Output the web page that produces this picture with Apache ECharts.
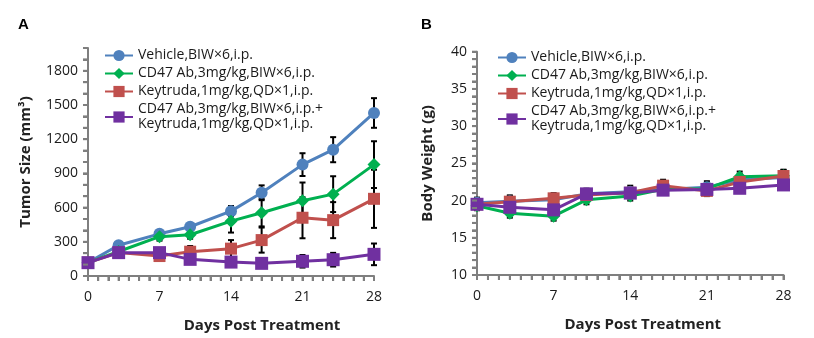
<!DOCTYPE html>
<html><head><meta charset="utf-8">
<script src="https://cdn.jsdelivr.net/npm/echarts@6/dist/echarts.min.js"></script>
<style>html,body{margin:0;padding:0;background:#fff}#c{width:814px;height:338px}</style>
</head><body><div id="c"></div>
<script>
const days = [0, 3, 7, 10, 14, 17, 21, 24, 28];
const names = ['Vehicle,BIW×6,i.p.', 'CD47 Ab,3mg/kg,BIW×6,i.p.', 'Keytruda,1mg/kg,QD×1,i.p.', 'CD47 Ab,3mg/kg,BIW×6,i.p.+\nKeytruda,1mg/kg,QD×1,i.p.'];
// Tumor size (mm3)
const tumorVehicle = [117, 270, 370, 432, 569, 730, 977, 1108, 1430];
const tumorVehicleErr = [10, 15, 15, 20, 45, 65, 100, 110, 130];
const tumorCd47 = [117, 215, 345, 362, 481, 555, 660, 718, 977];
const tumorCd47Err = [10, 20, 35, 35, 100, 120, 160, 157, 205];
const tumorKey = [117, 205, 175, 213, 240, 315, 511, 490, 677];
const tumorKeyErr = [10, 15, 20, 50, 75, 110, 180, 158, 255];
const tumorCombo = [117, 205, 205, 146, 122, 111, 129, 143, 190];
const tumorComboErr = [10, 15, 20, 25, 20, 15, 55, 60, 95];
// Body weight (g)
const bwVehicle = [19.7, 19.9, 20.1, 20.9, 21.2, 21.5, 21.8, 22.8, 23.1];
const bwVehicleErr = [0.7, 0.8, 0.7, 0.7, 0.8, 0.6, 0.8, 0.8, 0.9];
const bwCd47 = [19.3, 18.3, 17.9, 20.1, 20.6, 21.5, 21.6, 23.2, 23.35];
const bwCd47Err = [0.6, 0.6, 0.6, 0.6, 0.6, 0.6, 0.6, 0.7, 0.8];
const bwKey = [19.5, 19.85, 20.3, 20.75, 21.05, 22.0, 21.3, 22.5, 23.3];
const bwKeyErr = [0.6, 0.7, 0.7, 0.6, 0.7, 0.8, 0.7, 0.7, 0.8];
const bwCombo = [19.5, 19.1, 18.75, 20.9, 21.0, 21.4, 21.5, 21.65, 22.1];
const bwComboErr = [0.6, 0.6, 0.6, 0.6, 0.6, 0.6, 0.6, 0.6, 0.6];
// Axis ranges, tick steps (minor) and label steps (major)
const xRange = [0, 28], xMajor = 7, xMinor = 1;
const tumorRange = [0, 2000], tumorMajor = 300, tumorMinor = 100;
const bwRange = [10, 40], bwMajor = 5, bwMinor = 1;

const colors = ['#4F81BD', '#00B050', '#C0504D', '#7030A0'];
const symbols = ['circle', 'diamond', 'rect', 'rect'];
const symSizes = [12, 13, 12, 13];
const FONT = "Segoe UI, Open Sans, Noto Sans, sans-serif";
const AXC = '#7f7f7f';

function pts(v){ return days.map((d,i)=>[d, v[i]]); }
function errPts(v,e){ return days.map((d,i)=>[d, v[i]-e[i], v[i]+e[i]]); }
function steps(r, s){ const out=[]; for (let k=0; r[0]+k*s <= r[1]+1e-9; k++) out.push(+(r[0]+k*s).toFixed(6)); return out; }
function errRender(params, api){
  const x = api.value(0), lo = api.value(1), hi = api.value(2);
  const a = api.coord([x, hi]), b = api.coord([x, lo]);
  const w = 3, st = {stroke:'#000', lineWidth:2};
  return {type:'group', children:[
    {type:'line', shape:{x1:a[0],y1:a[1],x2:b[0],y2:b[1]}, style:st},
    {type:'line', shape:{x1:a[0]-w,y1:a[1],x2:a[0]+w,y2:a[1]}, style:st},
    {type:'line', shape:{x1:b[0]-w,y1:b[1],x2:b[0]+w,y2:b[1]}, style:st}
  ]};
}
function stepFmt(step, max){
  return function(v){
    if (max !== undefined && v > max) return '';
    return (Math.abs(v/step - Math.round(v/step)) < 1e-6) ? String(v) : '';
  };
}
function mkAxis(type, grid, range, minor, major, nameText, nameGap, margin, pad){
  return {type:'value', gridIndex:grid, min:range[0], max:range[1], interval:minor,
    axisLine:{show:true, lineStyle:{color:AXC, width:2}},
    axisTick:{show:true, length:5, lineStyle:{color:AXC, width:2}},
    splitLine:{show:false},
    axisLabel:{show:true, margin:margin, color:'#1a1a1a', fontSize:14, fontFamily:FONT,
      formatter:stepFmt(major, type === 'tumor' ? 1800 : undefined)},
    name:nameText, nameLocation:'middle', nameGap:nameGap,
    nameTextStyle:{color:'#222', fontSize:15, fontWeight:'bold', fontFamily:FONT, padding:[0,0,0,pad||0]}};
}
const tumorSets = [[tumorVehicle,tumorVehicleErr],[tumorCd47,tumorCd47Err],[tumorKey,tumorKeyErr],[tumorCombo,tumorComboErr]];
const bwSets = [[bwVehicle,bwVehicleErr],[bwCd47,bwCd47Err],[bwKey,bwKeyErr],[bwCombo,bwComboErr]];
const series = [];
[tumorSets, bwSets].forEach((sets, g)=>{
  sets.forEach((s,i)=>{
    series.push({type:'custom', xAxisIndex:g, yAxisIndex:g, renderItem:errRender, data:errPts(s[0],s[1]), z:1});
  });
  sets.forEach((s,i)=>{
    series.push({type:'line', name:names[i], xAxisIndex:g, yAxisIndex:g, data:pts(s[0]),
      color:colors[i], symbol:symbols[i], symbolSize:symSizes[i], showAllSymbol:true,
      lineStyle:{width:3, color:colors[i]}, itemStyle:{color:colors[i]}, z:2+i});
  });
});
function legend(left, top){
  return {orient:'vertical', left:left, top:top, itemWidth:28, itemHeight:14, itemGap:3,
    data:names, textStyle:{color:'#1a1a1a', fontSize:14, fontFamily:FONT, lineHeight:15}};
}
const panelLabels = [
  {type:'text', left:18, top:17, style:{text:'A', font:"bold 15px sans-serif", fill:'#000'}},
  {type:'text', left:421, top:17, style:{text:'B', font:"bold 15px sans-serif", fill:'#000'}}
];
const chart = echarts.init(document.getElementById('c'), null, {renderer:'canvas'});
chart.setOption({
  animation:false, backgroundColor:'#fff',
  grid:[{left:88, width:286, top:48, height:229},
        {left:477, width:306.5, top:51.7, height:223.3}],
  xAxis:[mkAxis('x', 0, xRange, xMinor, xMajor, 'Days Post Treatment', 42, 14, 62),
         mkAxis('x', 1, xRange, xMinor, xMajor, 'Days Post Treatment', 42, 14, 25)],
  yAxis:[mkAxis('tumor', 0, tumorRange, tumorMinor, tumorMajor, 'Tumor Size (mm³)', 55, 10),
         mkAxis('bw', 1, bwRange, bwMinor, bwMajor, 'Body Weight (g)', 42, 10)],
  legend:[legend(99,43), legend(492,45)],
  graphic:panelLabels,
  series:series
});
// Tick marks placed through the chart's own axis scales (fallback in case axis ticks are not drawn)
try {
  const tickEls = [];
  const yRanges = [[tumorRange, tumorMinor], [bwRange, bwMinor]];
  [0, 1].forEach(g => {
    const yr = yRanges[g][0];
    steps(xRange, xMinor).forEach(v => {
      const p = chart.convertToPixel({gridIndex:g}, [v, yr[0]]);
      tickEls.push({type:'line', z:10, silent:true, shape:{x1:p[0], y1:p[1], x2:p[0], y2:p[1]+5}, style:{stroke:AXC, lineWidth:2}});
    });
    steps(yr, yRanges[g][1]).forEach(v => {
      const p = chart.convertToPixel({gridIndex:g}, [xRange[0], v]);
      tickEls.push({type:'line', z:10, silent:true, shape:{x1:p[0]-5, y1:p[1], x2:p[0], y2:p[1]}, style:{stroke:AXC, lineWidth:2}});
    });
  });
  chart.setOption({graphic: panelLabels.concat(tickEls)});
} catch (e) {}
</script></body></html>
